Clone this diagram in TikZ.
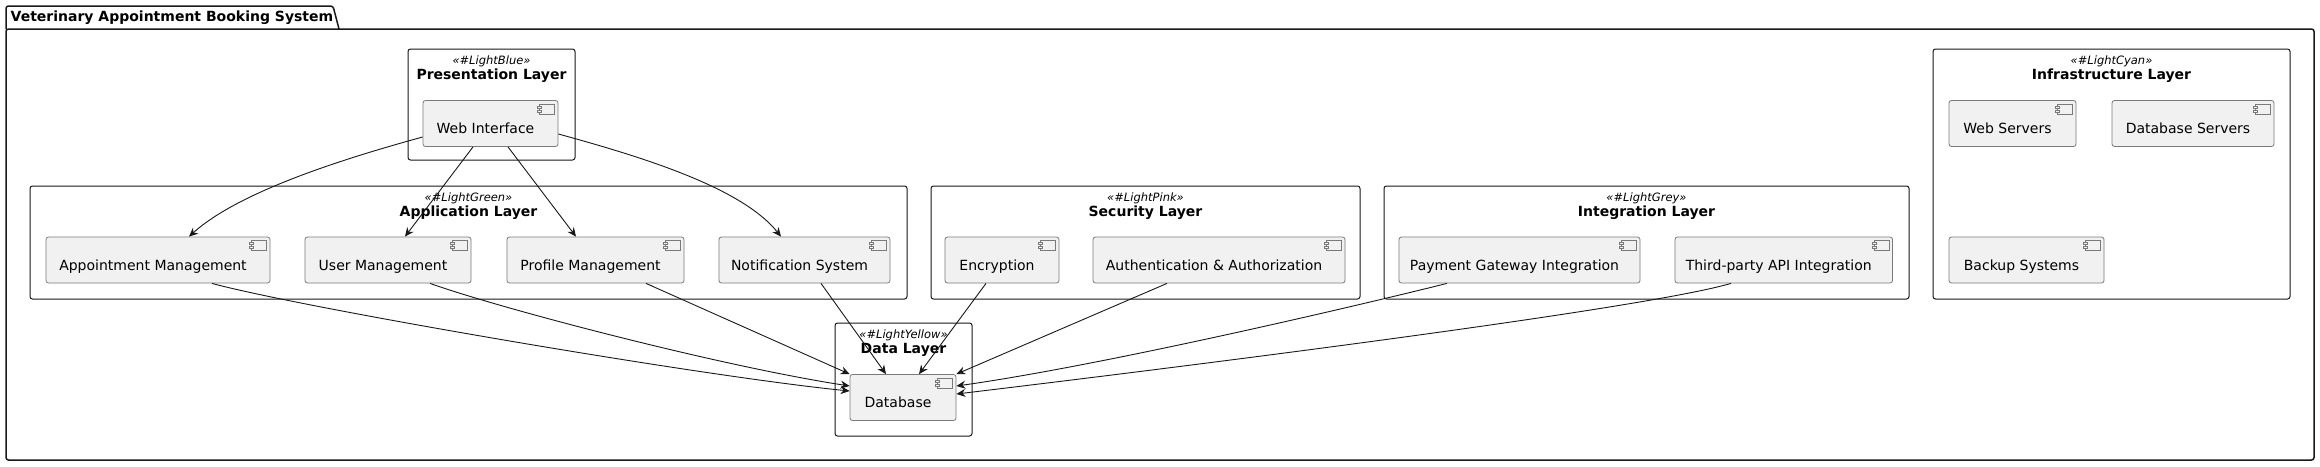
\documentclass[tikz,border=0pt]{standalone}
\usepackage{fontspec}
\setmainfont{DejaVu Sans}
\usetikzlibrary{arrows.meta,calc}
\definecolor{ink}{HTML}{181818}
\definecolor{compline}{HTML}{7A7A7A}
\definecolor{compfill}{HTML}{F1F1F1}
\tikzset{
  comp/.style={draw=compline, line width=0.8pt, fill=compfill, rounded corners=2.5pt, inner sep=0pt, minimum height=46pt},
  complbl/.style={font=\fontsize{14}{16}\selectfont, anchor=base, inner sep=0pt, text=black},
  compicon/.style={draw=compline, line width=0.7pt, fill=compfill},
  layer/.style={draw=ink, line width=1pt, fill=white, rounded corners=2.5pt, inner sep=0pt},
  stereo/.style={font=\fontsize{11.5}{13}\selectfont\itshape, anchor=base, inner sep=0pt},
  ltitle/.style={font=\fontsize{14}{16}\selectfont\bfseries, anchor=base, inner sep=0pt},
  pkg/.style={draw=ink, line width=1.5pt},
  arr/.style={draw=ink, line width=0.9pt, -{Stealth[length=9pt,width=8pt,inset=3pt]}},
}
\newcommand{\compbox}[5]{%
  \node[comp, minimum width=#4pt] (#1) at (#2,#3) {};
  \node[complbl] (#1-lbl) at ($(#1.north)+(-5,33.5)$) {#5};
  \draw[compicon] ([xshift=-19pt,yshift=-4pt]#1.north east) rectangle ++(15,10);
  \draw[compicon] ([xshift=-21pt,yshift=-6pt]#1.north east) rectangle ++(4,2);
  \draw[compicon] ([xshift=-21pt,yshift=-10pt]#1.north east) rectangle ++(4,2);
}
\newcommand{\layerbox}[7]{%
  \node[layer, minimum width=#4pt, minimum height=#5pt] (#1) at (#2,#3) {};
  \node[stereo] (#1-st) at ($(#1.north)+(0,15.5)$) {#6};
  \node[ltitle] (#1-tt) at ($(#1.north)+(0,30.5)$) {#7};
}
\begin{document}
\begin{tikzpicture}[x=1pt,y=-1pt]
\useasboundingbox (0,0) rectangle (2320,466);
% outer package
\draw[pkg, rounded corners=2.5pt] (6,29) -- (6,6) -- (333,6) [sharp corners] -- (339,29);
\draw[pkg, rounded corners=2.5pt] (6,29) rectangle (2314,460);
\node[ltitle, anchor=base west] (pkgtitle) at (10.5,21) {Veterinary Appointment Booking System};
% layers
\layerbox{pres}{491.5}{104.5}{167}{111}{«\#LightBlue»}{Presentation Layer}
\layerbox{app}{468.5}{242.5}{877}{113}{«\#LightGreen»}{Application Layer}
\layerbox{sec}{1145.5}{242.5}{429}{113}{«\#LightPink»}{Security Layer}
\layerbox{integ}{1646.5}{242.5}{525}{113}{«\#LightGrey»}{Integration Layer}
\layerbox{infra}{2111.5}{174}{357}{250}{«\#LightCyan»}{Infrastructure Layer}
\layerbox{data}{903.5}{379.5}{137}{113}{«\#LightYellow»}{Data Layer}
% components
\compbox{web}{490.5}{123.5}{135}{Web Interface}
\compbox{appt}{158}{260}{224}{Appointment Management}
\compbox{user}{388}{260}{166}{User Management}
\compbox{prof}{595.5}{260}{177}{Profile Management}
\compbox{notif}{804.5}{260}{171}{Notification System}
\compbox{enc}{1002}{260}{114}{Encryption}
\compbox{auth}{1219}{260}{252}{Authentication \& Authorization}
\compbox{pay}{1519.5}{260}{241}{Payment Gateway Integration}
\compbox{third}{1783.75}{260}{217.5}{Third-party API Integration}
\compbox{websrv}{2012.5}{123.5}{127}{Web Servers}
\compbox{dbsrv}{2193}{123.5}{162}{Database Servers}
\compbox{backup}{2026.5}{260}{155}{Backup Systems}
\compbox{db}{903}{397.5}{106}{Database}
% connectors
\draw[arr] ([yshift=-13.5pt]web.west) .. controls +(-80,22) and +(50,-45) .. ([xshift=31pt]appt.north);
\draw[arr] ([xshift=-17.5pt]web.south) -- ([xshift=17pt]user.north);
\draw[arr] ([xshift=17.5pt]web.south) -- ([xshift=-19.5pt]prof.north);
\draw[arr] ([yshift=-10.5pt]web.east) .. controls +(80,22) and +(-40,-50) .. ([xshift=-23.5pt]notif.north);
\draw[arr] ([xshift=54pt]appt.south) .. controls +(88,24) and +(-150,-15) .. ([yshift=6.5pt]db.west);
\draw[arr] ([xshift=42pt]user.south) .. controls +(70,25) and +(-130,-20) .. ([yshift=11.5pt]db.west);
\draw[arr] ([xshift=50.5pt]prof.south) -- (db.north west);
\draw[arr] ([xshift=16.5pt]notif.south) -- ([xshift=-17pt]db.north);
\draw[arr] ([xshift=-16pt]enc.south) -- ([xshift=16pt]db.north);
\draw[arr] ([xshift=-52pt]auth.south) -- (db.north east);
\draw[arr] ([xshift=-72.5pt]pay.south) .. controls +(-80,20) and +(150,-21) .. ([yshift=11.5pt]db.east);
\draw[arr] ([xshift=-52.75pt]third.south) .. controls +(-85,25) and +(250,-30) .. ([yshift=3.5pt]db.east);
\end{tikzpicture}
\end{document}
